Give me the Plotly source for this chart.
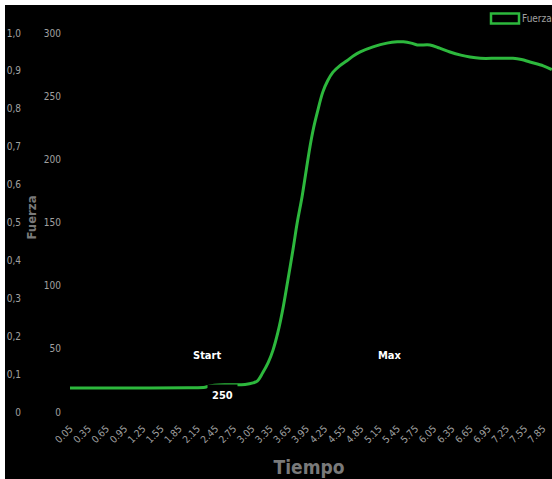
import plotly.graph_objects as go

# ---- data ----
tiempo = [0.05, 1.00, 2.00, 2.28, 2.34, 2.61, 2.94, 3.07, 3.14, 3.23, 3.32, 3.40, 3.48, 3.56,
          3.64, 3.73, 3.80, 3.88, 3.95, 4.01, 4.07, 4.13, 4.22, 4.30, 4.39, 4.50, 4.62, 4.73,
          4.84, 5.05, 5.28, 5.45, 5.55, 5.68, 5.78, 5.99, 6.15, 6.32, 6.50, 6.65, 6.82, 7.10,
          7.36, 7.50, 7.64, 7.86, 8.00]
fuerza = [19.0, 19.0, 19.2, 19.6, 20.5, 21.5, 21.8, 23.0, 24.5, 31.0, 39.0, 49.0, 63.0, 81.0,
          103.0, 128.6, 150.0, 170.6, 192.0, 210.0, 225.0, 237.0, 253.0, 262.0, 269.0, 274.0, 278.0, 282.0,
          285.0, 289.0, 292.0, 293.0, 293.0, 292.0, 290.5, 290.5, 288.0, 285.0, 282.5, 281.0, 280.0, 280.0,
          280.0, 279.0, 277.0, 274.0, 271.0]

x_ticks = [round(0.05 + 0.3 * i, 2) for i in range(27)]
x_ticktext = [f"{v:.2f}" for v in x_ticks]
y_ticks = [0, 50, 100, 150, 200, 250, 300]
y2_ticks = [0, 0.1, 0.2, 0.3, 0.4, 0.5, 0.6, 0.7, 0.8, 0.9, 1.0]
y2_ticktext = ["0", "0,1", "0,2", "0,3", "0,4", "0,5", "0,6", "0,7", "0,8", "0,9", "1,0"]

annot_labels = [("Start", 2.31, 44.4), ("250", 2.56, 12.7), ("Max", 5.33, 44.4)]
legend_name = "Fuerza"

GREEN = "#2db83d"
GRAY = "#a0a0a0"
FONT = "Liberation Sans Narrow, DejaVu Sans Condensed, Arial Narrow, sans-serif"

W, H = 547, 474          # page adds a 5px white margin at top/left
plot_left = 61
top_m, bot_m = 15, 64
paper_h = H - top_m - bot_m

fig = go.Figure()
fig.add_trace(go.Scatter(x=tiempo, y=fuerza, mode="lines", name=legend_name,
                         line=dict(color=GREEN, width=3, shape="spline", smoothing=1.0),
                         showlegend=False, hoverinfo="skip"))
# empty trace so the secondary (0-1) axis is drawn
fig.add_trace(go.Scatter(x=[None], y=[None], yaxis="y2", showlegend=False, hoverinfo="skip"))

for text, xv, yv in annot_labels:
    fig.add_annotation(x=xv, y=yv, text=f"<b>{text}</b>", showarrow=False,
                       font=dict(family=FONT, size=11, color="white"),
                       bgcolor="black", borderpad=4)

# legend: outlined box + label
def py(p):
    return 1 + (top_m - p) / paper_h

fig.add_shape(type="rect", xref="paper", yref="paper",
              x0=486 / W, x1=514 / W, y0=py(18.5), y1=py(8.5),
              fillcolor="black", line=dict(color=GREEN, width=2.5))
fig.add_annotation(xref="paper", yref="paper", x=515 / W, y=py(13.5),
                   xanchor="left", yanchor="middle", showarrow=False,
                   text=legend_name, font=dict(family=FONT, size=10, color=GRAY))

px_per_t = 60.6
x0 = 0.05 - 4 / px_per_t
x1 = 0.05 + (W - 65) / px_per_t
px_per_v = (407 - 28) / 300.0
y_lo = -(top_m + paper_h - 407) / px_per_v
y_hi = (407 - top_m) / px_per_v

fig.update_layout(
    width=W, height=H,
    margin=dict(l=0, r=0, t=top_m, b=bot_m, pad=0),
    paper_bgcolor="black", plot_bgcolor="black",
    font=dict(family=FONT, color=GRAY),
    showlegend=False,
    xaxis=dict(domain=[plot_left / W, 1], range=[x0, x1], automargin=False,
               tickvals=x_ticks, ticktext=x_ticktext, tickangle=-45,
               ticklabelstandoff=5,
               tickfont=dict(size=10, color=GRAY, family=FONT),
               showgrid=False, zeroline=False, showline=False, ticks="",
               title=dict(text="<b>Tiempo</b>", font=dict(size=19, color="#7a7a7a", family=FONT),
                          standoff=16)),
    yaxis=dict(range=[y_lo, y_hi], tickvals=y_ticks, automargin=False,
               ticklabelstandoff=4,
               tickfont=dict(size=10, color=GRAY, family=FONT),
               showgrid=False, zeroline=False, showline=False, ticks="",
               title=dict(text="<b>Fuerza</b>", font=dict(size=13, color="#7a7a7a", family=FONT),
                          standoff=4)),
    yaxis2=dict(overlaying="y", anchor="free", side="left", position=19 / W, automargin=False,
                ticklabelstandoff=3,
                range=[y_lo / 300, y_hi / 300], tickvals=y2_ticks, ticktext=y2_ticktext,
                tickfont=dict(size=10, color=GRAY, family=FONT),
                showgrid=False, zeroline=False, showline=False, ticks=""),
)

fig.write_html(
    "out.html",
    post_script="document.body.style.margin='5px 0 0 5px';"
                "document.body.style.overflow='hidden';"
                "document.body.style.background='white';",
)
